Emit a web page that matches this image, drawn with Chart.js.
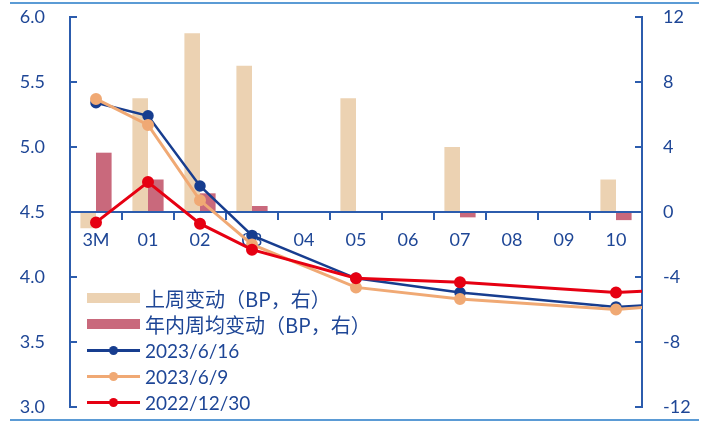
<!DOCTYPE html>
<html>
<head>
<meta charset="utf-8">
<script src="https://cdn.jsdelivr.net/npm/chart.js@4"></script>
<style>
  body { margin: 0; background: #fff; }
  #wrap { position: relative; width: 709px; height: 421px; }
  .frame { position: absolute; left: 10px; width: 689px; height: 2px; background: #5b9bd5; }
  #legend { position: absolute; left: 87px; top: 285px; font-family: "Noto Sans CJK SC", Lato, sans-serif; font-size: 20px; color: #1e4696; }
  #legend .row { height: 26px; display: flex; align-items: center; white-space: nowrap; }
  #legend .sw { position: relative; width: 53px; height: 26px; margin-right: 5px; }
  #legend .num { font-family: Lato, sans-serif; font-size: 19px; }
</style>
</head>
<body>
<div id="wrap">
  <div class="frame" style="top:2px"></div>
  <div class="frame" style="top:419px"></div>
  <canvas id="myChart"></canvas>
  <div id="legend"></div>
</div>
<script>
// tenors; the last one sits past the right edge (the curves run off the axis)
const categories = ['3M', '01', '02', '03', '04', '05', '06', '07', '08', '09', '10', '30'];
const lastShown = 10;

// bars, BP (right axis)
const weeklyChange = [-1, 7, 11, 9, 0, 7, 0, 4, 0, 0, 2, null];
const avgWeeklyChange = [3.65, 2.0, 1.15, 0.37, 0, 0, 0, -0.33, 0, 0, -0.5, null];

// yield curves, % (left axis)
const curve0616 = [5.34, 5.24, 4.70, 4.32, null, 3.99, null, 3.88, null, null, 3.77, 3.79];
const curve0609 = [5.37, 5.17, 4.59, 4.25, null, 3.92, null, 3.83, null, null, 3.75, 3.78];
const curve1230 = [4.42, 4.73, 4.41, 4.21, null, 3.99, null, 3.96, null, null, 3.88, 3.90];

const names = ['上周变动（BP，右）', '年内周均变动（BP，右）', '2023/6/16', '2023/6/9', '2022/12/30'];

const leftTicks = [3.0, 3.5, 4.0, 4.5, 5.0, 5.5, 6.0];
const rightTicks = [-12, -8, -4, 0, 4, 8, 12];

const axisColor = '#2c5cad';
const textColor = '#1e4696';
const tanColor = '#ecd2b2';
const roseColor = '#c9697c';
const blue = '#173d8f';
const orange = '#f0a974';
const red = '#e60012';

// keep the label padding from eating vertical space
function sideAxisFit(width) {
  return s => { s.width = width; s.paddingTop = 8; s.paddingBottom = 8; };
}

function lineSet(label, data, color, order, width) {
  return {
    type: 'line', label: label, data: data, yAxisID: 'y', order: order, clip: 0,
    borderColor: color, backgroundColor: color, borderWidth: width,
    pointRadius: 4.5, pointHoverRadius: 4.5, spanGaps: true, tension: 0
  };
}

const ctx = document.getElementById('myChart');

new Chart(ctx, {
  type: 'bar',
  data: {
    labels: categories,
    datasets: [
      lineSet(names[4], curve1230, red, 1, 3),
      lineSet(names[3], curve0609, orange, 2, 3),
      lineSet(names[2], curve0616, blue, 3, 2.5),
      {
        label: names[0], data: weeklyChange, yAxisID: 'y2', order: 4,
        backgroundColor: tanColor, borderWidth: 0,
        categoryPercentage: 0.6, barPercentage: 1.0
      },
      {
        label: names[1], data: avgWeeklyChange, yAxisID: 'y2', order: 5,
        backgroundColor: roseColor, borderWidth: 0,
        categoryPercentage: 0.6, barPercentage: 1.0
      }
    ]
  },
  options: {
    responsive: true,
    maintainAspectRatio: false,
    animation: false,
    layout: { padding: { top: 17, bottom: 14, left: 0, right: 0 } },
    plugins: {
      legend: { display: false },
      tooltip: { enabled: false }
    },
    scales: {
      x: {
        type: 'category',
        position: { y2: 0 },
        // stop the axis at 10 without cutting the curves short
        afterDataLimits: s => { s.max = lastShown; },
        afterFit: s => { s.height = 0; },
        grid: { drawOnChartArea: false, color: axisColor, lineWidth: 2, tickLength: 7, offset: true },
        border: { color: axisColor, width: 2 },
        ticks: { color: textColor, font: { family: 'Lato', size: 18 }, padding: 10, maxRotation: 0 }
      },
      y: {
        position: 'left',
        min: 3, max: 6,
        afterBuildTicks: s => { s.ticks = leftTicks.map(v => ({ value: v })); },
        afterFit: sideAxisFit(70),
        grid: { drawOnChartArea: false, color: axisColor, lineWidth: 2, tickLength: -7 },
        border: { color: axisColor, width: 2 },
        ticks: { color: textColor, font: { family: 'Lato', size: 18 }, padding: 32, callback: v => v.toFixed(1) }
      },
      y2: {
        position: 'right',
        min: -12, max: 12,
        afterBuildTicks: s => { s.ticks = rightTicks.map(v => ({ value: v })); },
        afterFit: sideAxisFit(67),
        grid: { drawOnChartArea: false, color: axisColor, lineWidth: 2, tickLength: -7 },
        border: { color: axisColor, width: 2 },
        ticks: { color: textColor, font: { family: 'Lato', size: 18 }, padding: 28 }
      }
    }
  }
});

// legend inside the lower left of the plot
const legend = document.getElementById('legend');
const swatches = [
  { kind: 'bar', color: tanColor },
  { kind: 'bar', color: roseColor },
  { kind: 'line', color: blue },
  { kind: 'line', color: orange },
  { kind: 'line', color: red }
];
names.forEach((name, i) => {
  const row = document.createElement('div');
  row.className = 'row';
  const sw = document.createElement('div');
  sw.className = 'sw';
  const s = swatches[i];
  if (s.kind === 'bar') {
    sw.innerHTML = `<div style="position:absolute;left:0;top:8px;width:53px;height:10px;background:${s.color}"></div>`;
  } else {
    sw.innerHTML = `<div style="position:absolute;left:0;top:11.5px;width:53px;height:3px;background:${s.color}"></div>` +
      `<div style="position:absolute;left:22px;top:8.5px;width:9px;height:9px;border-radius:50%;background:${s.color}"></div>`;
  }
  const label = document.createElement('span');
  label.textContent = name;
  if (s.kind === 'line') label.className = 'num';
  row.appendChild(sw);
  row.appendChild(label);
  legend.appendChild(row);
});
</script>
</body>
</html>
